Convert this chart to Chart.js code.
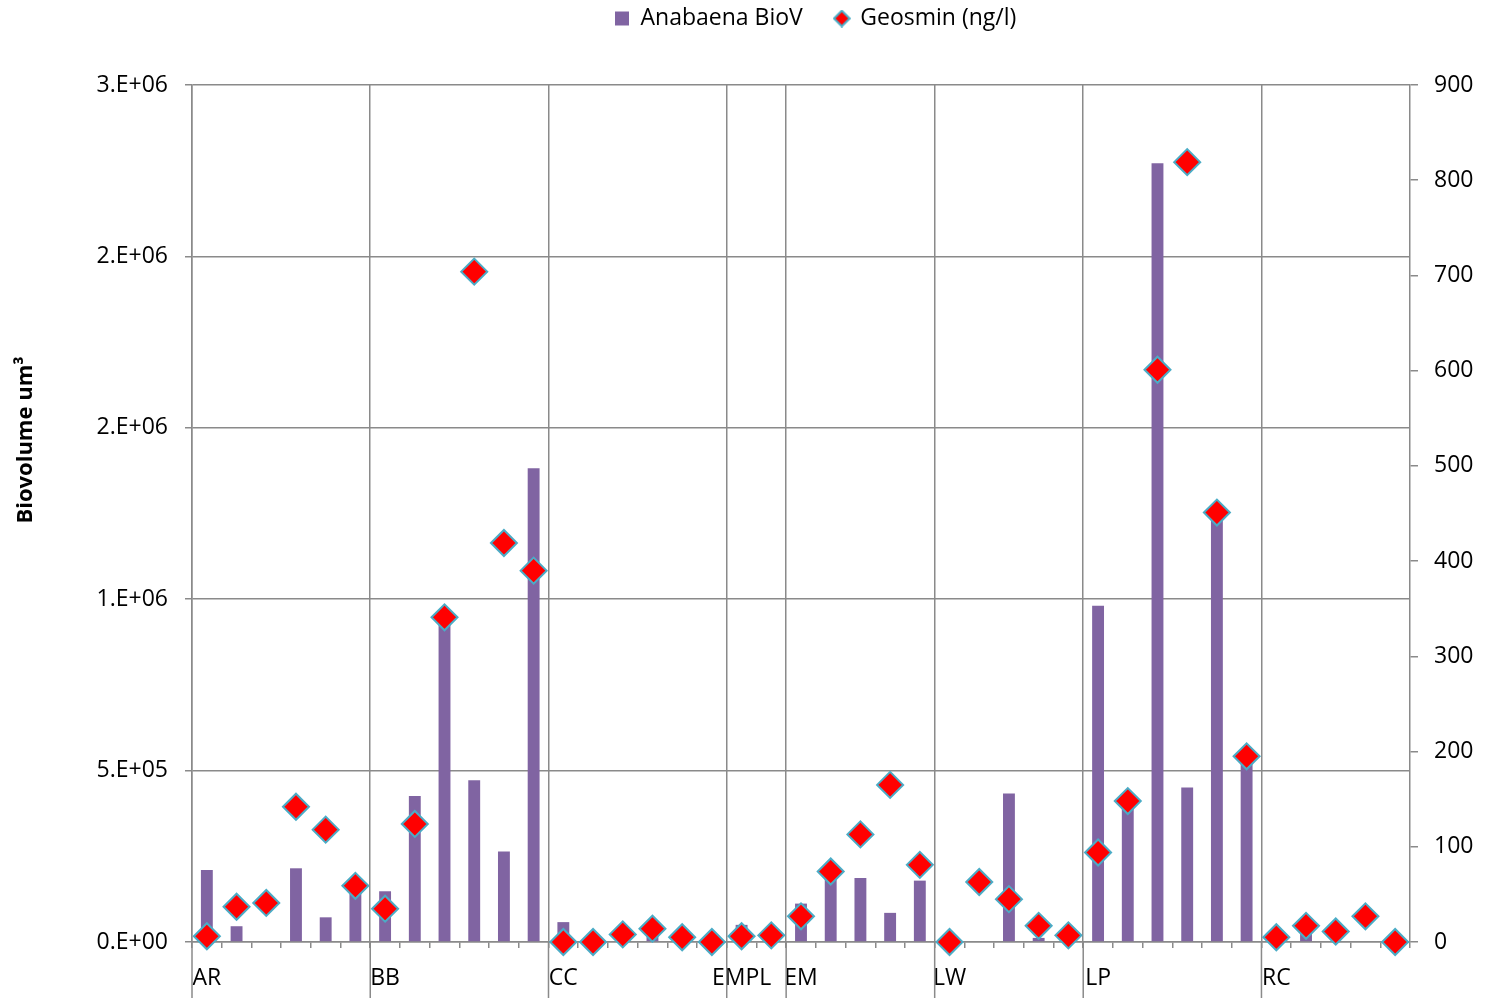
<!DOCTYPE html>
<html>
<head>
<meta charset="utf-8">
<script src="https://cdn.jsdelivr.net/npm/chart.js@4.4.1/dist/chart.umd.min.js"></script>
<style>
  html, body { margin: 0; padding: 0; background: #ffffff; }
  #wrap { width: 1496px; height: 998px; }
</style>
</head>
<body>
<div id="wrap"><canvas id="chart" width="1496" height="998"></canvas></div>
<script>
// Sampling sites and how many samples each one has
const groupNames = ['AR', 'BB', 'CC', 'EMPL', 'EM', 'LW', 'LP', 'RC'];
const groupSizes = [6, 6, 6, 2, 5, 5, 6, 5];

// Anabaena biovolume (um3) per sample
const biovolume = [
  2.10e5, 4.6e4, null, 2.15e5, 7.2e4, 1.65e5,        // AR
  1.48e5, 4.26e5, 9.58e5, 4.72e5, 2.64e5, 1.382e6,   // BB
  5.8e4, null, null, 3.5e4, null, null,              // CC
  5.0e4, null,                                       // EMPL
  1.12e5, 2.04e5, 1.87e5, 8.5e4, 1.79e5,             // EM
  null, null, 4.33e5, 1.2e4, null,                   // LW
  9.81e5, 4.12e5, 2.272e6, 4.51e5, 1.252e6, 5.42e5,  // LP
  null, 4.0e4, null, null, null                      // RC
];

// Geosmin (ng/l) per sample
const geosmin = [
  6, 37, 41, 142, 118, 59,        // AR
  35, 124, 341, 704, 419, 390,    // BB
  0, 0, 8, 14, 5, 0,              // CC
  6, 7,                           // EMPL
  27, 74, 113, 165, 81,           // EM
  0, 63, 45, 17, 7,               // LW
  94, 148, 601, 819, 451, 195,    // LP
  5, 17, 11, 27, 0                // RC
];

// Left axis tick labels, bottom to top
const leftTickLabels = ['0.E+00', '5.E+05', '1.E+06', '2.E+06', '2.E+06', '3.E+06'];
const leftAxisTitle = 'Biovolume um³';

// One category per sample; the site name sits on the first sample of each site
const categories = [];
const groupStarts = [];
groupNames.forEach((name, g) => {
  groupStarts.push(categories.length);
  for (let k = 0; k < groupSizes[g]; k++) categories.push(k === 0 ? name : '');
});
const siteBoundaries = new Set(groupStarts);

const FONT = "'Open Sans', 'Liberation Sans', sans-serif";
const GRID = '#8a8a8a';
const BAR = '#8064A2';
const MARK_FILL = '#ff0000';
const MARK_EDGE = '#4BACC6';

// small diamond used as the legend symbol for the geosmin series
function makeDiamondIcon(size) {
  const c = document.createElement('canvas');
  c.width = size; c.height = size;
  const g = c.getContext('2d');
  const h = size / 2, r = h - 1.2;
  g.beginPath();
  g.moveTo(h, h - r); g.lineTo(h + r, h); g.lineTo(h, h + r); g.lineTo(h - r, h);
  g.closePath();
  g.fillStyle = MARK_FILL; g.fill();
  g.lineWidth = 2; g.strokeStyle = MARK_EDGE; g.stroke();
  return c;
}
const diamondIcon = makeDiamondIcon(18);

const LEGEND_PAD = 32;

// Legend occupies the band above the plot and starts at a fixed x
const legendPlacement = {
  id: 'legendPlacement',
  beforeInit(chart) {
    const fit = chart.legend.fit;
    chart.legend.fit = function () {
      fit.call(this);
      this.height = 85;
    };
  },
  afterLayout(chart) {
    const lg = chart.legend;
    const w = lg.right - lg.left;
    lg.left = 615 - LEGEND_PAD;
    lg.right = lg.left + w;
    lg.top = 18 - LEGEND_PAD - 11;
  }
};

// Site separators continue down through the category label band;
// rotated left axis title
const extras = {
  id: 'extras',
  afterDraw(chart) {
    const { ctx, chartArea, scales } = chart;
    const xs = scales.x;
    const half = (xs.getPixelForValue(1) - xs.getPixelForValue(0)) / 2;
    ctx.save();
    ctx.strokeStyle = GRID;
    ctx.lineWidth = 1.5;
    groupStarts.forEach(i => {
      const x = xs.getPixelForValue(i) - half;
      ctx.beginPath();
      ctx.moveTo(x, chartArea.bottom);
      ctx.lineTo(x, chart.height);
      ctx.stroke();
    });
    ctx.translate(26, 440);
    ctx.rotate(-Math.PI / 2);
    ctx.font = "bold 22px " + FONT;
    ctx.fillStyle = '#000';
    ctx.textAlign = 'center';
    ctx.textBaseline = 'middle';
    ctx.fillText(leftAxisTitle, 0, 0);
    ctx.restore();
  }
};

new Chart(document.getElementById('chart'), {
  data: {
    labels: categories,
    datasets: [
      {
        type: 'bar',
        label: 'Anabaena BioV',
        data: biovolume,
        yAxisID: 'y',
        backgroundColor: BAR,
        borderWidth: 0,
        categoryPercentage: 1,
        barPercentage: 0.40,
        order: 1
      },
      {
        type: 'line',
        label: 'Geosmin (ng/l)',
        data: geosmin,
        yAxisID: 'y2',
        showLine: false,
        pointStyle: 'rectRot',
        pointRadius: 13,
        pointHoverRadius: 13,
        pointBackgroundColor: MARK_FILL,
        pointBorderColor: MARK_EDGE,
        pointBorderWidth: 2,
        backgroundColor: MARK_FILL,
        borderColor: MARK_EDGE,
        clip: false,
        order: 0
      }
    ]
  },
  options: {
    responsive: false,
    animation: false,
    events: [],
    layout: { padding: 0 },
    plugins: {
      tooltip: { enabled: false },
      legend: {
        display: true,
        position: 'top',
        align: 'start',
        labels: {
          usePointStyle: true,
          boxWidth: 14,
          boxHeight: 14,
          padding: LEGEND_PAD,
          color: '#000',
          font: { family: FONT, size: 23 },
          generateLabels(chart) {
            const ds = chart.data.datasets;
            return [
              { text: ds[0].label, fillStyle: BAR, strokeStyle: BAR, lineWidth: 0,
                pointStyle: 'rect', datasetIndex: 0, hidden: false, fontColor: '#000' },
              { text: ds[1].label, fillStyle: MARK_FILL, strokeStyle: MARK_EDGE, lineWidth: 2,
                pointStyle: diamondIcon, datasetIndex: 1, hidden: false, fontColor: '#000' }
            ];
          }
        }
      }
    },
    scales: {
      x: {
        type: 'category',
        offset: true,
        afterFit(scale) { scale.height = 56; },
        grid: {
          offset: true,
          drawOnChartArea: true,
          color: ctx => siteBoundaries.has(ctx.index) ? GRID : 'rgba(0,0,0,0)',
          tickColor: GRID,
          lineWidth: 1.5,
          tickLength: 6
        },
        border: { display: true, color: GRID, width: 1.5 },
        ticks: {
          autoSkip: false,
          maxRotation: 0,
          minRotation: 0,
          padding: 17,
          color: '#000',
          font: { family: FONT, size: 23 }
        }
      },
      y: {
        position: 'left',
        min: 0,
        max: 2.5e6,
        afterFit(scale) { scale.width = 192; },
        grid: { color: GRID, lineWidth: 1.5, tickLength: 7, tickColor: GRID },
        border: { display: true, color: GRID, width: 1.5 },
        ticks: {
          stepSize: 5e5,
          padding: 17,
          color: '#000',
          font: { family: FONT, size: 23 },
          callback: (v, i) => leftTickLabels[i]
        }
      },
      y2: {
        position: 'right',
        min: 0,
        max: 900,
        afterFit(scale) { scale.width = 86; },
        grid: { drawOnChartArea: false, color: GRID, lineWidth: 1.5, tickLength: 8, tickColor: GRID },
        border: { display: true, color: GRID, width: 1.5 },
        ticks: {
          stepSize: 100,
          padding: 16,
          color: '#000',
          font: { family: FONT, size: 23 }
        }
      }
    }
  },
  plugins: [legendPlacement, extras]
});
</script>
</body>
</html>
